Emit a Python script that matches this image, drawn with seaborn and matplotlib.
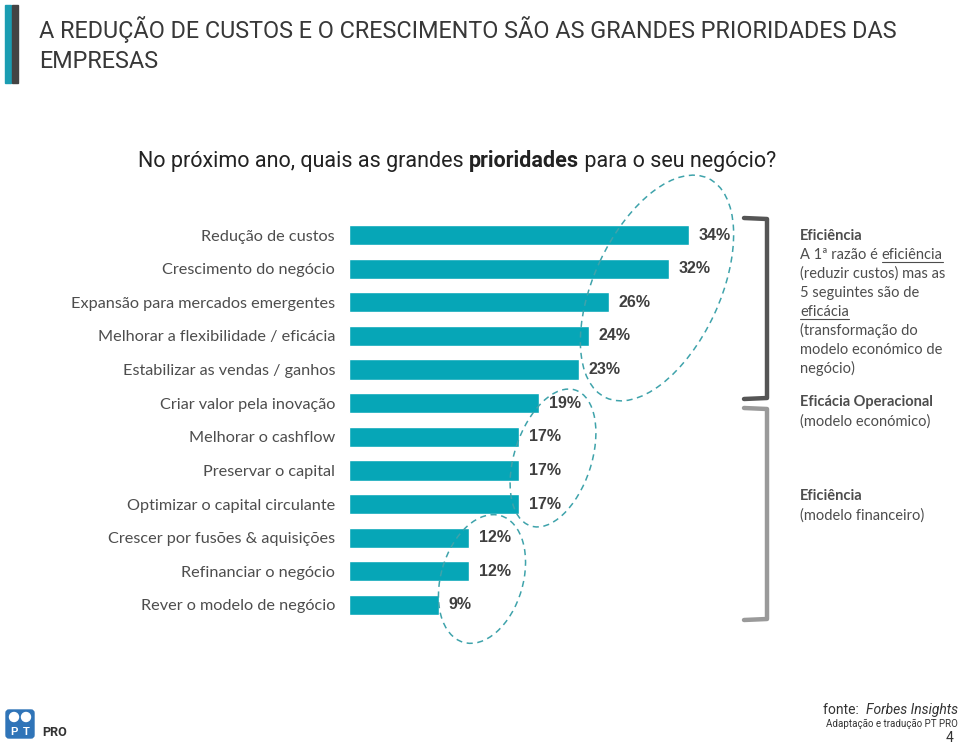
import matplotlib
matplotlib.use("Agg")
import matplotlib.pyplot as plt
import seaborn as sns
import pandas as pd
from matplotlib.patches import Ellipse, Rectangle, FancyBboxPatch, Circle
from matplotlib.lines import Line2D
from matplotlib.transforms import Affine2D
from matplotlib import font_manager

# data
categories = [
    "Redução de custos",
    "Crescimento do negócio",
    "Expansão para mercados emergentes",
    "Melhorar a flexibilidade / eficácia",
    "Estabilizar as vendas / ganhos",
    "Criar valor pela inovação",
    "Melhorar o cashflow",
    "Preservar o capital",
    "Optimizar o capital circulante",
    "Crescer por fusões & aquisições",
    "Refinanciar o negócio",
    "Rever o modelo de negócio",
]
values = [34, 32, 26, 24, 23, 19, 17, 17, 17, 12, 12, 9]
value_labels = [f"{v}%" for v in values]

title_lines = ["A REDUÇÃO DE CUSTOS E O CRESCIMENTO SÃO AS GRANDES PRIORIDADES DAS",
               "EMPRESAS"]
subtitle_parts = ["No próximo ano, quais as grandes ", "prioridades", " para o seu negócio?"]

TEAL = "#06a6b7"
DASH = "#3fa3ab"
DARK = "#3f3f3f"
GREY = "#4d4d4d"

sns.set_style("white")
installed = {f.name for f in font_manager.fontManager.ttflist}
NARROW = "Liberation Sans Narrow" if "Liberation Sans Narrow" in installed else "Roboto"
plt.rcParams["font.family"] = ["Lato", "DejaVu Sans"]

W, H = 960, 744
fig = plt.figure(figsize=(9.6, 7.44), dpi=100)
# image pixel coords (y downward) -> figure
pix = Affine2D().scale(1 / W, -1 / H).translate(0, 1) + fig.transFigure


def fx(x):
    return x / W


def fy(y):
    return 1 - y / H


# axes: bars start at x=349, 10 px per percent, rows 33.6 px apart
ax = fig.add_axes([fx(349), fy(621.8), 400 / W, (621.8 - 218.2) / H])
df = pd.DataFrame({"cat": categories, "val": values})
sns.barplot(data=df, x="val", y="cat", orient="h", color=TEAL, width=0.6,
            saturation=1, ax=ax)
ax.set_xlim(0, 40)
ax.set_ylim(11.5, -0.5)
ax.bar_label(ax.containers[0], labels=value_labels, padding=7,
             fontsize=11.5, fontweight="bold", color=DARK,
             family="Liberation Sans")
ax.set_xlabel("")
ax.set_ylabel("")
ax.set_xticks([])
ax.tick_params(axis="y", length=0, pad=10, labelsize=11.7, labelcolor=GREY)
for s in ax.spines.values():
    s.set_visible(False)

# title block
fig.add_artist(Rectangle((5, 5), 6, 78, color="#1b9db2", transform=pix))
fig.add_artist(Rectangle((12, 5), 6, 78, color="#444444", transform=pix))
fig.text(fx(39), fy(38), title_lines[0], family=NARROW, fontsize=16.8,
         color="#383838", va="baseline")
fig.text(fx(39), fy(68), title_lines[1], family=NARROW, fontsize=16.8,
         color="#383838", va="baseline")

# subtitle with bold word
fig.canvas.draw()
r = fig.canvas.get_renderer()
x = 138
for i, part in enumerate(subtitle_parts):
    t = fig.text(fx(x), fy(167), part, family=NARROW, fontsize=15.5,
                 color="#222222", fontweight="bold" if i == 1 else "normal",
                 va="baseline")
    x += t.get_window_extent(r).width

# dashed ellipses (pixel geometry, y measured downward)
ellipses = [((657, 288), 242, 126, 65), ((553, 458), 143, 77, 71.7),
            ((482, 579), 132, 82, 73.5)]
for (cx, cy), w, h, ang in ellipses:
    fig.add_artist(Ellipse((cx, cy), w, h, angle=-ang, fill=False,
                           ec=DASH, lw=1.1, ls=(0, (4, 3)), transform=pix))


# brackets
def bracket(y0, y1, color):
    fig.add_artist(Line2D([744, 767, 767, 744], [y0, y0 + 1, y1 - 1, y1],
                          color=color, lw=3.2, solid_joinstyle="round",
                          transform=pix))


bracket(218, 399, "#555555")
bracket(408, 620, "#9a9a9a")

# right side notes
RX = 800
fs = 10.5
LH = 19


def note(y, text, bold=False, x=RX):
    return fig.text(fx(x), fy(y), text, fontsize=fs, color=GREY, va="baseline",
                    fontweight="bold" if bold else "normal")


def underline(x0, y, width):
    fig.add_artist(Line2D([x0, x0 + width], [y + 3, y + 3], color=GREY,
                          lw=0.8, transform=pix))


note(240, "Eficiência", bold=True)
t1 = note(240 + LH, "A 1ª razão é ")
t1w = t1.get_window_extent(r).width
t1b = note(240 + LH, "eficiência", x=RX + t1w)
underline(RX + t1w, 240 + LH, t1b.get_window_extent(r).width)
note(240 + 2 * LH, "(reduzir custos) mas as")
note(240 + 3 * LH, "5 seguintes são de")
t2 = note(240 + 4 * LH, "eficácia")
underline(RX, 240 + 4 * LH, t2.get_window_extent(r).width)
note(240 + 5 * LH, "(transformação do")
note(240 + 6 * LH, "modelo económico de")
note(240 + 7 * LH, "negócio)")

note(406, "Eficácia Operacional", bold=True)
note(426, "(modelo económico)")
note(500, "Eficiência", bold=True)
note(520, "(modelo financeiro)")

# footer logo
fig.add_artist(FancyBboxPatch((6, 710), 28, 28,
                              boxstyle="round,pad=0,rounding_size=3",
                              color="#2f74b8", transform=pix))
fig.add_artist(Circle((14, 717), 4.5, color="white", transform=pix))
fig.add_artist(Circle((26, 717), 4.5, color="white", transform=pix))
fig.text(fx(14), fy(735), "P", fontsize=8, fontweight="bold", color="white",
         ha="center", va="baseline", family="Liberation Sans")
fig.text(fx(26), fy(735), "T", fontsize=8, fontweight="bold", color="white",
         ha="center", va="baseline", family="Liberation Sans")
fig.text(fx(42), fy(736), "PRO", fontsize=9, fontweight="bold", color="#333333",
         va="baseline", family=NARROW)

# footer source
src = fig.text(fx(958), fy(714), "Forbes Insights", fontsize=10, style="italic",
               color="#333333", ha="right", va="baseline", family=NARROW)
sw = src.get_window_extent(r).width
fig.text(fx(958 - sw), fy(714), "fonte:  ", fontsize=10, color="#333333",
         ha="right", va="baseline", family=NARROW)
fig.text(fx(958), fy(727), "Adaptação e tradução PT PRO", fontsize=7,
         color="#333333", ha="right", va="baseline", family=NARROW)
fig.text(fx(954), fy(742), "4", fontsize=10, color="#333333", ha="right",
         va="baseline", family=NARROW)

fig.savefig("out.png", dpi=100)
